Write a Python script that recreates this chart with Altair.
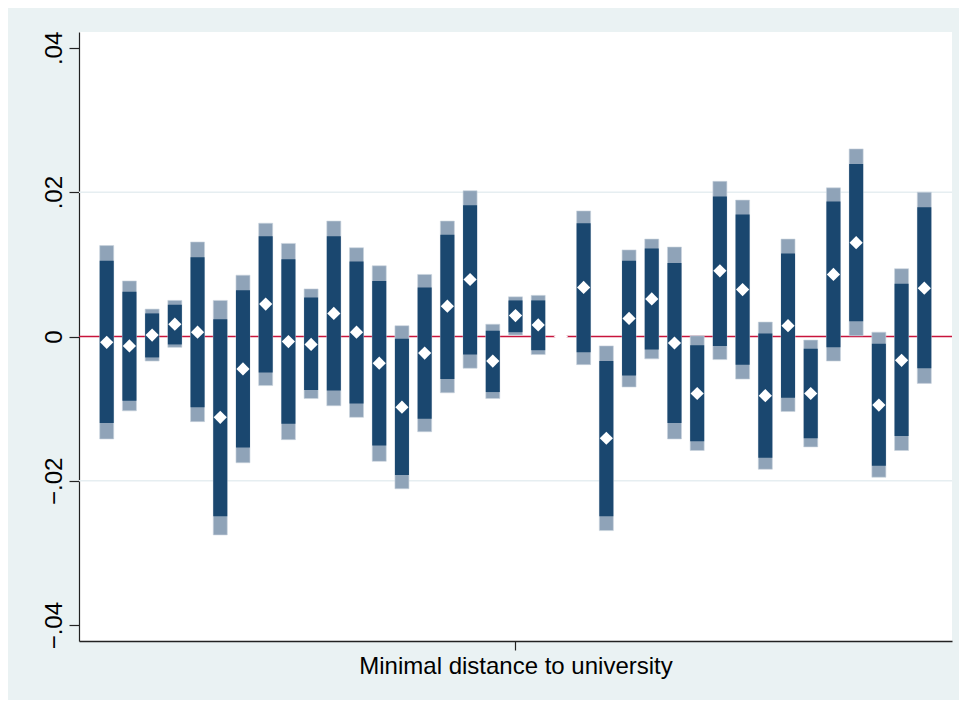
import altair as alt
import pandas as pd

positions = list(range(1, 38))
estimate = [-0.0008, -0.0013, 0.0002, 0.0017, 0.0006, -0.0112, -0.0045, 0.0045, -0.0007, -0.0011,
            0.0032, 0.0006, -0.0037, -0.0098, -0.0023, 0.0042, 0.0079, -0.0034, 0.0029, 0.0016,
            0.0000, 0.0068, -0.0141, 0.0025, 0.0052, -0.0009, -0.0079, 0.0091, 0.0065, -0.0082,
            0.0015, -0.0079, 0.0086, 0.0130, -0.0095, -0.0033, 0.0067]
ci95_hi = [0.0126, 0.0077, 0.0038, 0.0050, 0.0131, 0.0050, 0.0085, 0.0157, 0.0129, 0.0066,
           0.0160, 0.0123, 0.0098, 0.0015, 0.0086, 0.0160, 0.0202, 0.0017, 0.0055, 0.0057,
           0.0000, 0.0174, -0.0013, 0.0120, 0.0135, 0.0124, 0.0001, 0.0215, 0.0189, 0.0020,
           0.0135, -0.0005, 0.0206, 0.0260, 0.0006, 0.0094, 0.0200]
ci90_hi = [0.0105, 0.0062, 0.0032, 0.0044, 0.0110, 0.0024, 0.0064, 0.0139, 0.0107, 0.0054,
           0.0139, 0.0104, 0.0077, -0.0003, 0.0068, 0.0141, 0.0182, 0.0008, 0.0050, 0.0050,
           0.0000, 0.0157, -0.0034, 0.0105, 0.0122, 0.0102, -0.0012, 0.0194, 0.0169, 0.0004,
           0.0115, -0.0017, 0.0187, 0.0239, -0.0010, 0.0073, 0.0179]
ci90_lo = [-0.0120, -0.0089, -0.0029, -0.0011, -0.0098, -0.0249, -0.0154, -0.0050, -0.0121, -0.0074,
           -0.0075, -0.0093, -0.0151, -0.0192, -0.0114, -0.0059, -0.0025, -0.0077, 0.0006, -0.0019,
           0.0000, -0.0022, -0.0249, -0.0054, -0.0018, -0.0120, -0.0145, -0.0013, -0.0039, -0.0168,
           -0.0085, -0.0141, -0.0015, 0.0021, -0.0179, -0.0138, -0.0044]
ci95_lo = [-0.0142, -0.0103, -0.0034, -0.0015, -0.0118, -0.0275, -0.0175, -0.0068, -0.0143, -0.0086,
           -0.0096, -0.0112, -0.0173, -0.0211, -0.0132, -0.0078, -0.0044, -0.0086, 0.0002, -0.0025,
           0.0000, -0.0039, -0.0269, -0.0070, -0.0031, -0.0142, -0.0158, -0.0032, -0.0059, -0.0184,
           -0.0104, -0.0153, -0.0034, 0.0001, -0.0195, -0.0158, -0.0065]

grid_values = [-0.02, 0.02]
zero_value = [0.0]
y_ticks = [-0.04, -0.02, 0.0, 0.02, 0.04]
x_tick = [19]
x_label = "Minimal distance to university"

df = pd.DataFrame({
    "pos": positions, "est": estimate,
    "hi95": ci95_hi, "lo95": ci95_lo, "hi90": ci90_hi, "lo90": ci90_lo,
})
grid_df = pd.DataFrame({"v": grid_values})
zero_df = pd.DataFrame({"v": zero_value})

FONT = "Liberation Sans"
y_scale = alt.Scale(domain=[-0.0422, 0.0422], nice=False, zero=False)
x_scale = alt.Scale(domain=[0, 38], nice=False, zero=False)

y_axis = alt.Axis(
    values=y_ticks, title=None, grid=False,
    labelExpr="datum.value == 0 ? '0' : replace(format(datum.value, '.2f'), '0.', '.')",
    labelAngle=270, labelAlign="center", labelBaseline="alphabetic",
    labelPadding=8, tickSize=10, labelFontSize=24, labelFont=FONT, labelColor="black",
    domainColor="#222222", domainWidth=1.2, tickColor="#222222", tickWidth=1.2,
    labelOverlap=False, labelFlush=False,
)
x_axis = alt.Axis(
    values=x_tick, title=None, grid=False,
    labelExpr="'" + x_label + "'",
    labelPadding=4, tickSize=9, labelFontSize=24, labelFont=FONT, labelColor="black",
    labelLimit=0,
    domainColor="#222222", domainWidth=1.5, tickColor="#222222", tickWidth=1.2,
    labelOverlap=False, labelFlush=False,
)

X = alt.X("pos:Q", scale=x_scale, axis=x_axis)

grid = alt.Chart(grid_df).mark_rule(color="#E6EEF1", strokeWidth=1.5).encode(
    y=alt.Y("v:Q", scale=y_scale, axis=y_axis)
)
outer = alt.Chart(df).mark_bar(size=14, color="#8FA3B8", stroke="#C9D3DD", strokeWidth=0.6).encode(
    x=X, y=alt.Y("lo95:Q", scale=y_scale, axis=y_axis), y2="hi95:Q"
)
inner = alt.Chart(df).mark_bar(size=14, color="#1A476F").encode(
    x=X, y=alt.Y("lo90:Q", scale=y_scale, axis=y_axis), y2="hi90:Q"
)
zero = alt.Chart(zero_df).mark_rule(color="#C8143C", strokeWidth=1.6).encode(
    y=alt.Y("v:Q", scale=y_scale, axis=y_axis)
)
points = alt.Chart(df).mark_point(shape="diamond", filled=True, color="white", size=175, opacity=1).encode(
    x=X, y=alt.Y("est:Q", scale=y_scale, axis=y_axis)
)

chart = alt.layer(grid, zero, outer, inner, points).properties(
    width=873, height=609,
    autosize=alt.AutoSizeParams(type="none"),
    padding={"left": 71, "top": 24, "right": 7, "bottom": 59},
).configure(background="#EAF2F3").configure_view(fill="white", stroke=None)

chart.save("out.html", embed_options={"renderer": "svg", "actions": False})
